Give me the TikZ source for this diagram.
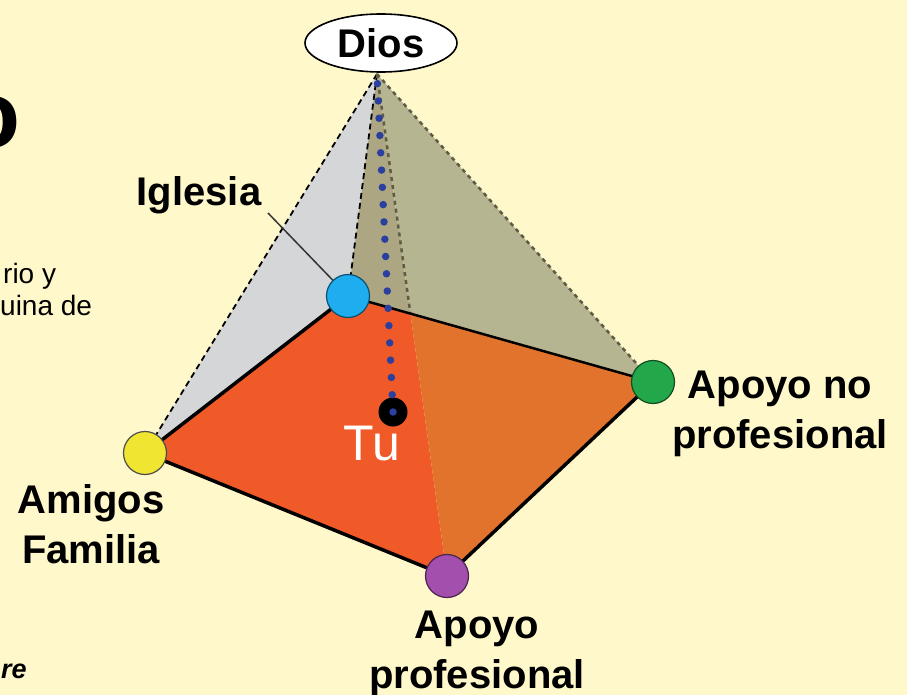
\documentclass[tikz,border=0pt]{standalone}
\usepackage{fontspec}
\setmainfont{Liberation Sans}
\usetikzlibrary{shapes.geometric,calc}

\definecolor{paper}{RGB}{255,248,202}
\definecolor{facegray}{RGB}{212,214,216}
\definecolor{facetan}{RGB}{172,166,130}
\definecolor{faceolive}{RGB}{181,181,145}
\definecolor{basered}{RGB}{240,90,40}
\definecolor{baseorange}{RGB}{226,115,45}
\definecolor{dotblue}{RGB}{43,63,158}
\definecolor{cyanball}{RGB}{30,174,239}
\definecolor{greenball}{RGB}{34,168,74}
\definecolor{yellowball}{RGB}{240,230,50}
\definecolor{purpleball}{RGB}{162,79,174}

\begin{document}
\begin{tikzpicture}[x=1pt,y=-1pt,line join=round,
  corner/.style={circle,minimum size=43pt,inner sep=0pt,line width=1.2pt},
  lbl/.style={font=\bfseries\fontsize{40}{50}\selectfont,align=center,inner sep=0pt},
  hiddenedge/.style={line width=1.8pt,dash pattern=on 6pt off 4pt},
  backedge/.style={line width=2.5pt,black!45!facetan,dash pattern=on 4pt off 4pt}]
  \fill[paper] (0,0) rectangle (907,695);
  \useasboundingbox (0,0) rectangle (907,695);
  \clip (0,0) rectangle (907,695);

  % pyramid corners
  \coordinate (top) at (377,74);
  \coordinate (am) at (145,453);
  \coordinate (ig) at (348,296);
  \coordinate (gr) at (653,382);
  \coordinate (pu) at (447,576);
  \coordinate (x) at ($(top)!0.4773!(pu)$);
  \coordinate (tu) at (393,412);
  \coordinate (lead) at (268,213);

  % faces
  \fill[facegray] (top)--(am)--(ig)--cycle;
  \fill[facetan] (top)--(ig)--(x)--cycle;
  \fill[faceolive] (top)--(x)--(gr)--cycle;
  \fill[basered] (am)--(ig)--(x)--(pu)--cycle;
  \fill[baseorange] (x)--(gr)--(pu)--cycle;

  % edges
  \draw[hiddenedge] (top)--(am);
  \draw[hiddenedge] (top)--(ig);
  \draw[backedge] (top)--(x);
  \draw[backedge] (top)--(gr);
  \draw[line width=2.5pt] (ig)--(gr);
  \draw[line width=3.5pt] (gr)--(pu)--(am)--(ig);
  \draw[line width=1.5pt,black!80] (lead)--(ig);

  \node[circle,fill=black,minimum size=29pt,inner sep=0pt] (you) at (tu) {};
  \draw[dotblue,line width=7.5pt,line cap=round,dash pattern=on 0pt off 17.3pt] (you.center)--(top);

  \node[corner,fill=cyanball,draw=cyanball!45!black] (igc) at (ig) {};
  \node[corner,fill=yellowball,draw=black!70] (amc) at (am) {};
  \node[corner,fill=greenball,draw=greenball!45!black] (grc) at (gr) {};
  \node[corner,fill=purpleball,draw=purpleball!45!black] (puc) at (pu) {};

  \node[ellipse,draw,fill=white,line width=1.6pt,minimum width=152pt,minimum height=58pt,
    inner sep=0pt,font=\bfseries\fontsize{40}{50}\selectfont] (dios) at (381,43) {Dios};

  % labels
  \node[text=white,font=\fontsize{50}{60}\selectfont,anchor=base,inner sep=0pt] (tulbl) at (372,460) {Tu};
  \node[lbl,anchor=base] (iglbl) at (199,205) {Iglesia};
  \node[lbl,anchor=base] (amlbl) at (91,563) {Amigos\\Familia};
  \node[lbl,anchor=base] (grlbl) at (780,448) {Apoyo no\\profesional};
  \node[lbl,anchor=base] (pulbl) at (477,688) {Apoyo\\profesional};

  % text on the left
  \node[font=\bfseries\fontsize{95}{95}\selectfont,anchor=base east,inner sep=0pt] (title) at (21,148) {o};
  \node[font=\fontsize{28}{32}\selectfont,anchor=base west,inner sep=0pt] (txta) at (3,283) {rio y};
  \node[font=\fontsize{28}{32}\selectfont,anchor=base west,inner sep=0pt] (txtb) at (0,315) {uina de};
  \node[font=\bfseries\itshape\fontsize{27}{32}\selectfont,anchor=base west,inner sep=0pt] (txtc) at (1,678) {re};
\end{tikzpicture}
\end{document}
